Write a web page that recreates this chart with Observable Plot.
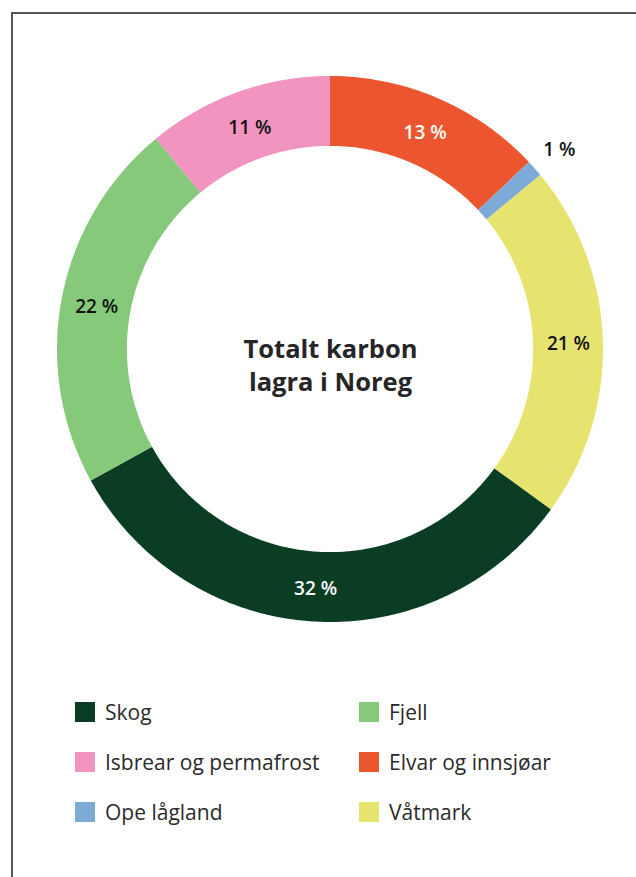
<!DOCTYPE html>
<html>
<head>
<meta charset="utf-8">
<script src="https://cdn.jsdelivr.net/npm/d3@7"></script>
<script src="https://cdn.jsdelivr.net/npm/@observablehq/plot@0.6"></script>
<style>
  html, body { margin: 0; padding: 0; background: #fff; }
  #wrap { position: relative; width: 636px; height: 877px; overflow: hidden; font-family: "Open Sans", sans-serif; }
  #frame { position: absolute; left: 11px; top: 12px; width: 700px; height: 900px; border-left: 2px solid #555; border-top: 2px solid #555; }
  #chart { position: absolute; left: 0; top: 0; }
  #legend { position: absolute; left: 0; top: 0; width: 636px; }
  .item { position: absolute; display: flex; align-items: center; font-size: 21px; color: #2b2b2b; height: 20px; white-space: nowrap; }
  .sw { width: 20px; height: 20px; margin-right: 10px; flex: none; }
</style>
</head>
<body>
<div id="wrap">
  <div id="frame"></div>
  <div id="chart"></div>
  <div id="legend"></div>
</div>
<script>
// Data (clockwise from 12 o'clock)
const categories = ["Elvar og innsjøar", "Ope lågland", "Våtmark", "Skog", "Fjell", "Isbrear og permafrost"];
const shares = [13, 1, 21, 32, 22, 11];
const colors = ["#eb5630", "#7eaad8", "#e6e46f", "#0b3d24", "#86c97a", "#f294c0"];
const labelColors = ["#ffffff", "#111111", "#111111", "#ffffff", "#111111", "#111111"];
const centerTitle = "Totalt karbon\nlagra i Noreg";
// Legend order (two columns, three rows)
const legendOrder = ["Skog", "Fjell", "Isbrear og permafrost", "Elvar og innsjøar", "Ope lågland", "Våtmark"];

const rOuter = 1, rInner = 0.744;
const pie = d3.pie().sort(null).value(d => d.share).startAngle(0).endAngle(2 * Math.PI);
const rows = categories.map((c, i) => ({cat: c, share: shares[i], label: shares[i] + " %", lc: labelColors[i]}));
const arcs = pie(rows);

const pts = [];
for (const a of arcs) {
  const n = Math.max(4, Math.ceil((a.endAngle - a.startAngle) / 0.01));
  for (let k = 0; k <= n; k++) {
    const t = a.startAngle + (a.endAngle - a.startAngle) * k / n;
    pts.push({cat: a.data.cat, x1: rInner * Math.sin(t), y1: rInner * Math.cos(t), x2: rOuter * Math.sin(t), y2: rOuter * Math.cos(t)});
  }
}
const labels = arcs.map(a => {
  const m = (a.startAngle + a.endAngle) / 2;
  const r = a.data.share < 3 ? 1.117 : 0.872;
  return {label: a.data.label, lc: a.data.lc, x: r * Math.sin(m), y: r * Math.cos(m)};
});

const plot = Plot.plot({
  width: 636,
  height: 660,
  marginLeft: 57,
  marginRight: 33,
  marginTop: 76,
  marginBottom: 38,
  x: {domain: [-1, 1], axis: null},
  y: {domain: [-1, 1], axis: null},
  color: {domain: categories, range: colors},
  style: {fontFamily: "Open Sans, sans-serif", background: "transparent"},
  marks: [
    Plot.area(pts, {x1: "x1", y1: "y1", x2: "x2", y2: "y2", fill: "cat", z: "cat", curve: "linear"}),
    Plot.text(labels, {x: "x", y: "y", text: "label", fill: d => d.lc, fontSize: 19, fontWeight: 600, dy: 2}),
    Plot.text([centerTitle], {x: 0, y: 0, text: d => d, dy: 14, fontSize: 25.5, fontWeight: 700, fill: "#262626", lineHeight: 1.3})
  ]
});
document.getElementById("chart").appendChild(plot);

// Legend
const legend = document.getElementById("legend");
legendOrder.forEach((cat, i) => {
  const col = i % 2, row = Math.floor(i / 2);
  const div = document.createElement("div");
  div.className = "item";
  div.style.left = (col === 0 ? 75 : 359) + "px";
  div.style.top = (702 + row * 50) + "px";
  const sw = document.createElement("span");
  sw.className = "sw";
  sw.style.background = colors[categories.indexOf(cat)];
  const tx = document.createElement("span");
  tx.textContent = cat;
  div.appendChild(sw);
  div.appendChild(tx);
  legend.appendChild(div);
});
</script>
</body>
</html>
